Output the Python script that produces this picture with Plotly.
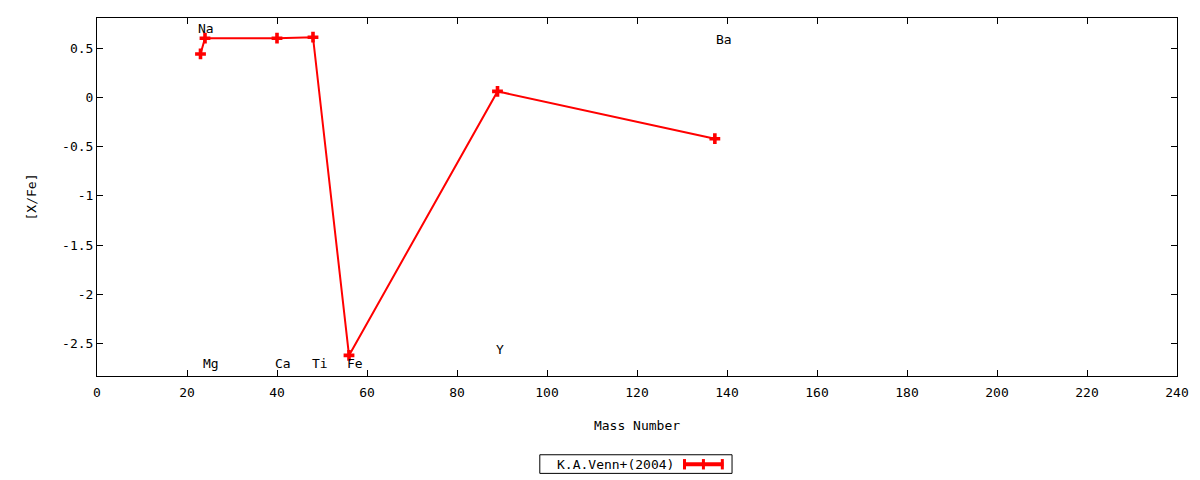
import plotly.graph_objects as go

# K.A.Venn+(2004) abundances
mass = [23, 24, 40, 48, 56, 89, 137.3]
x_fe = [0.44, 0.60, 0.60, 0.61, -2.62, 0.06, -0.42]

elem_names = ["Na", "Mg", "Ca", "Ti", "Fe", "Y", "Ba"]
elem_x = [22, 23.2, 39.2, 47.4, 55.2, 88.3, 137.2]
elem_y = [0.70, -2.70, -2.70, -2.70, -2.70, -2.56, 0.59]

xticks = list(range(0, 241, 20))
yticks = [0.5, 0, -0.5, -1, -1.5, -2, -2.5]
yticktext = ["0.5", "0", "-0.5", "-1", "-1.5", "-2", "-2.5"]

series_name = "K.A.Venn+(2004)"

FONT = "DejaVu Sans Mono"
FS = 13

fig = go.Figure()
fig.add_trace(go.Scatter(
    x=mass, y=x_fe, mode="lines+markers", name=series_name,
    line=dict(color="#ff0000", width=2),
    marker=dict(symbol="cross", size=9, color="#ff0000"),
    showlegend=False,
))

for name, ex, ey in zip(elem_names, elem_x, elem_y):
    fig.add_annotation(x=ex, y=ey, text=name, showarrow=False,
                       xanchor="left", yanchor="middle",
                       font=dict(family=FONT, size=FS, color="black"))

# legend box drawn by hand (gnuplot style: text then sample)
fig.add_shape(type="rect", xref="paper", yref="paper",
              x0=0.410, x1=0.588, y0=-0.272, y1=-0.220,
              line=dict(color="black", width=1))
fig.add_annotation(xref="paper", yref="paper", x=0.536, y=-0.246,
                   text=series_name, showarrow=False, xanchor="right",
                   yanchor="middle", font=dict(family=FONT, size=FS, color="black"))
fig.add_shape(type="line", xref="paper", yref="paper",
              x0=0.543, x1=0.580, y0=-0.2465, y1=-0.2465,
              line=dict(color="#ff0000", width=4))
for px in [0.544, 0.5615, 0.579]:
    fig.add_shape(type="line", xref="paper", yref="paper",
                  x0=px, x1=px, y0=-0.232, y1=-0.261,
                  line=dict(color="#ff0000", width=3))

axis_common = dict(showline=True, linecolor="black", linewidth=1, mirror="ticks",
                   ticks="inside", ticklen=6, tickcolor="black", showgrid=False,
                   zeroline=False, tickfont=dict(family=FONT, size=FS, color="black"))

fig.update_xaxes(range=[0, 240], tickvals=xticks, ticklabelstandoff=4,
                 title=dict(text="Mass Number", font=dict(family=FONT, size=FS), standoff=22),
                 **axis_common)
fig.update_yaxes(range=[-2.829, 0.805], tickvals=yticks, ticktext=yticktext,
                 title=dict(text="[X/Fe]", font=dict(family=FONT, size=FS), standoff=22),
                 **axis_common)

# page body has an 8px margin, so the margins are shifted to keep the plot box in place
fig.update_layout(
    width=1200, height=480,
    margin=dict(l=89, r=31, t=10, b=112),
    plot_bgcolor="white", paper_bgcolor="white",
    font=dict(family=FONT, size=FS, color="black"),
)

fig.write_html("out.html")
